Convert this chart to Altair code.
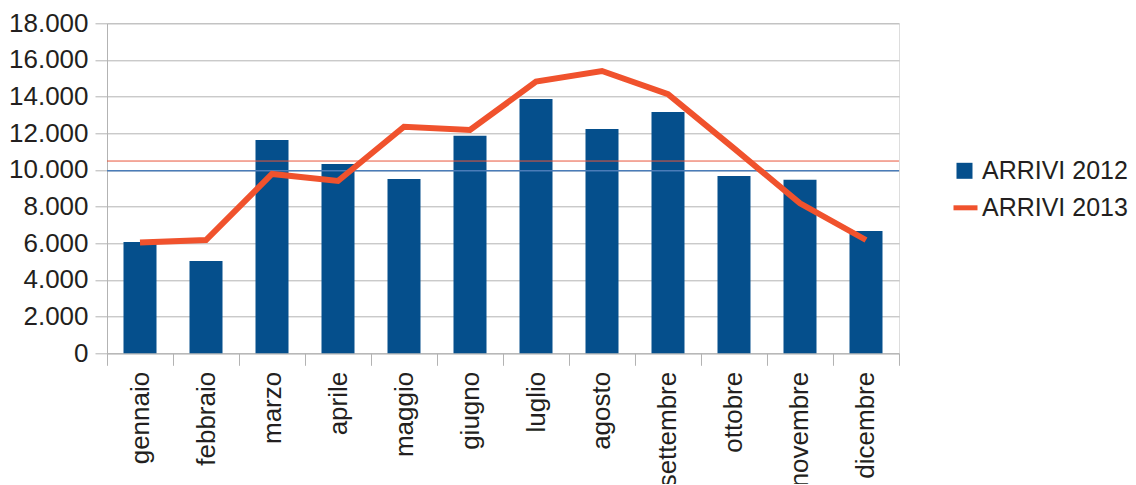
import altair as alt
import pandas as pd

months = ["gennaio", "febbraio", "marzo", "aprile", "maggio", "giugno",
          "luglio", "agosto", "settembre", "ottobre", "novembre", "dicembre"]
arrivi_2012 = [6070, 5040, 11640, 10330, 9510, 11860, 13870, 12240, 13160, 9670, 9460, 6670]
arrivi_2013 = [6050, 6180, 9780, 9400, 12360, 12180, 14820, 15400, 14130, 11180, 8180, 6180]
series = ["ARRIVI 2012", "ARRIVI 2013"]
y_ticks = [0, 2000, 4000, 6000, 8000, 10000, 12000, 14000, 16000, 18000]

BLUE = "#054f8c"
ORANGE = "#f0522d"
GRID = "#b3b3b3"
FONT = "Liberation Sans"
TXT = "#231f20"

df12 = pd.DataFrame({"mese": months, "arrivi": arrivi_2012, "serie": series[0]})
df13 = pd.DataFrame({"mese": months, "arrivi": arrivi_2013, "serie": series[1]})

x = alt.X("mese:N", sort=months,
          scale=alt.Scale(paddingInner=0, paddingOuter=0),
          axis=alt.Axis(title=None, labelAngle=-90, tickBand="extent",
                        tickSize=12, labelPadding=6, labelFontSize=26,
                        labelFont=FONT, labelColor=TXT, tickColor=GRID,
                        domainColor=GRID, grid=False, labelOverlap=False))
y_scale = alt.Scale(domain=[0, 18000], nice=False)
y_axis = alt.Axis(title=None, values=y_ticks, tickSize=12, labelPadding=7,
                  labelFontSize=26, labelFont=FONT, labelColor=TXT,
                  tickColor=GRID, domainColor=GRID, gridColor=GRID,
                  labelOverlap=False, labelFlush=False, labelSeparation=0,
                  labelExpr="replace(format(datum.value, ',d'), ',', '.')")
y = alt.Y("arrivi:Q", scale=y_scale, axis=y_axis)

bars = alt.Chart(df12).mark_bar(width=alt.RelativeBandSize(0.5)).encode(
    x=x, y=y,
    fill=alt.Fill("serie:N", scale=alt.Scale(domain=[series[0]], range=[BLUE]),
                  legend=alt.Legend(title=None, orient="none", legendX=845, legendY=135,
                                    symbolType="square", symbolSize=256,
                                    symbolStrokeWidth=0, labelOffset=5,
                                    labelFontSize=25, labelFont=FONT, labelColor=TXT,
                                    padding=0)),
)

avg12 = alt.Chart(df12).mark_rule(color="#4a7cb8", strokeWidth=1.5).encode(
    y=alt.Y("mean(arrivi):Q", scale=y_scale, axis=y_axis))
avg13 = alt.Chart(df13).mark_rule(color="#e8553a", strokeWidth=1).encode(
    y=alt.Y("mean(arrivi):Q", scale=y_scale, axis=y_axis))

line = alt.Chart(df13).mark_line(strokeWidth=6).encode(
    x=x, y=y,
    stroke=alt.Stroke("serie:N", scale=alt.Scale(domain=[series[1]], range=[ORANGE]),
                      legend=alt.Legend(title=None, orient="none", legendX=844, legendY=170,
                                        symbolType="stroke", symbolSize=576,
                                        symbolStrokeWidth=5, labelOffset=2,
                                        labelFontSize=25, labelFont=FONT, labelColor=TXT,
                                        padding=0)),
)

chart = alt.layer(bars, avg12, avg13, line).properties(
    width=792, height=330,
    autosize=alt.AutoSizeParams(type="none"),
    padding={"left": 99, "top": 15.3, "right": 229, "bottom": 131},
).configure_view(stroke=GRID).configure_axis(labelOverlap=False).configure(background="white")

chart.save("out.html", embed_options={"renderer": "svg", "actions": False})
